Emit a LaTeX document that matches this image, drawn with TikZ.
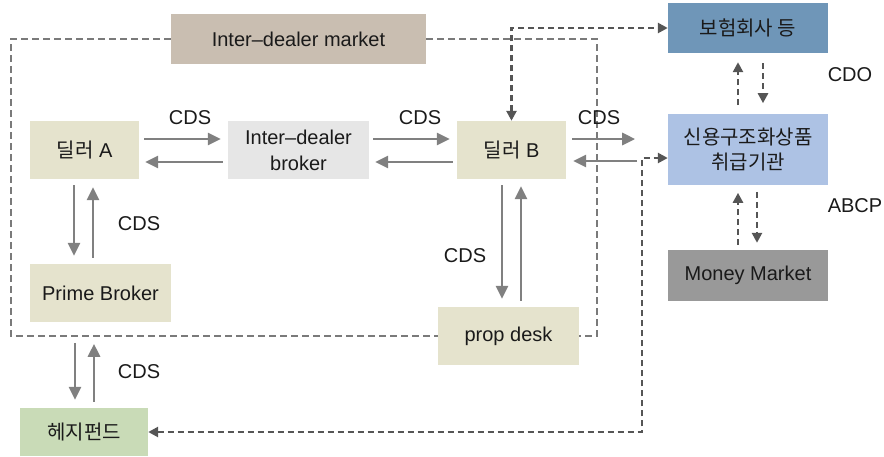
\documentclass[tikz,border=0pt]{standalone}
\usepackage{fontspec}
\setmainfont{Liberation Sans}
\newfontfamily\kr{Noto Sans CJK KR}
\usetikzlibrary{arrows.meta,calc}

\definecolor{marketfill}{HTML}{C9BEB1}
\definecolor{dealerfill}{HTML}{E5E3CD}
\definecolor{brokerfill}{HTML}{E6E6E6}
\definecolor{insfill}{HTML}{6F96B8}
\definecolor{credfill}{HTML}{ADC2E4}
\definecolor{moneyfill}{HTML}{999999}
\definecolor{hedgefill}{HTML}{C9DBB7}
\definecolor{solidgrey}{HTML}{808080}
\definecolor{loopgrey}{HTML}{7A7A7A}
\definecolor{darkdash}{HTML}{555555}
\definecolor{ink}{HTML}{1A1A1A}

\begin{document}
\begin{tikzpicture}[x=1pt,y=-1pt,
  box/.style={inner sep=0pt,align=center,text=ink,
    font=\fontsize{20}{26}\selectfont},
  krtext/.style={font=\kr\fontsize{20}{25}\selectfont},
  lbl/.style={inner sep=0pt,text=ink,font=\fontsize{20}{24}\selectfont},
  flow/.style={draw=solidgrey,line width=2.8pt,
    -{Triangle[length=13pt,width=12pt]}},
  loopline/.style={draw=loopgrey,line width=2.8pt,dash pattern=on 7pt off 4pt},
  linkline/.style={draw=darkdash,line width=2.8pt,dash pattern=on 6pt off 4pt},
  linktip/.style={-{Triangle[length=10pt,width=10pt]}},
  bothtips/.style={{Triangle[length=10pt,width=10pt]}-{Triangle[length=10pt,width=10pt]}}]
\useasboundingbox (0,0) rectangle (884,456);

% boxes
\node[box,fill=marketfill,minimum width=255pt,minimum height=50pt] (idm) at (298.5,39) {Inter–dealer market};
\node[box,fill=dealerfill,minimum width=109pt,minimum height=58pt] (dA) at (84.5,150) {{\kr\fontsize{20}{24}\selectfont 딜러} A};
\node[box,fill=brokerfill,minimum width=141pt,minimum height=58pt] (idb) at (298.5,150) {Inter–dealer\\broker};
\node[box,fill=dealerfill,minimum width=109pt,minimum height=58pt] (dB) at (511.5,150) {{\kr\fontsize{20}{24}\selectfont 딜러} B};
\node[box,krtext,fill=insfill,minimum width=160pt,minimum height=50pt] (ins) at (748,28) {보험회사 등};
\node[box,krtext,fill=credfill,minimum width=160pt,minimum height=71pt] (crd) at (748,149.5) {신용구조화상품\\취급기관};
\node[box,fill=moneyfill,minimum width=160pt,minimum height=51pt] (mm) at (748,275.5) {Money Market};
\node[box,fill=dealerfill,minimum width=141pt,minimum height=58pt] (pb) at (100.5,293) {Prime Broker};
\node[box,fill=dealerfill,minimum width=141pt,minimum height=58pt] (prop) at (508.5,336) {prop desk};
\node[box,krtext,fill=hedgefill,minimum width=128pt,minimum height=48pt] (hf) at (84,432) {헤지펀드};

% inter-dealer market loop
\draw[loopline] (idm.west) -- (11,39) -- (11,336) -- (prop.west);
\draw[loopline] (idm.east) -- (597,39) -- (597,336) -- (prop.east);

% dashed links to the insurers and the structured-credit desk
\draw[linkline,bothtips] (dB.north) |- (ins.west);
\coordinate (bend) at (642,158);
\draw[linkline,bothtips] (hf.east) -| (bend) -- (bend -| crd.west);

% CDO and ABCP flows
\draw[linkline,linktip] ($(ins.south)+(-10,52)$) -- ($(ins.south)+(-10,9)$);
\draw[linkline,linktip] ($(ins.south)+(15,10)$) -- ($(ins.south)+(15,50)$);
\draw[linkline,linktip] ($(mm.north)+(-10,-5)$) -- ($(mm.north)+(-10,-57)$);
\draw[linkline,linktip] ($(mm.north)+(9,-58)$) -- ($(mm.north)+(9,-7)$);

% CDS flows
\draw[flow] ($(dA.east)+(5,-11)$) -- ($(idb.west)+(-7,-11)$);
\draw[flow] ($(idb.west)+(-5,12)$) -- ($(dA.east)+(6,12)$);
\draw[flow] ($(idb.east)+(4,-11)$) -- ($(dB.west)+(-7,-11)$);
\draw[flow] ($(dB.west)+(-4,12)$) -- ($(idb.east)+(6,12)$);
\draw[flow] ($(dB.east)+(6,-11)$) -- ($(dB.east)+(69,-11)$);
\draw[flow] ($(dB.east)+(71,11)$) -- ($(dB.east)+(7,11)$);

\draw[flow] ($(dA.south)+(-10.5,6)$) -- ($(pb.north)+(-26.5,-8)$);
\draw[flow] ($(pb.north)+(-7.5,-6)$) -- ($(dA.south)+(8.5,8)$);
\draw[flow] ($(hf.north)+(-9,-65)$) -- ($(hf.north)+(-9,-8)$);
\draw[flow] ($(hf.north)+(10,-6)$) -- ($(hf.north)+(10,-64)$);
\draw[flow] ($(dB.south)+(-9.5,6)$) -- ($(prop.north)+(-6.5,-8)$);
\draw[flow] ($(prop.north)+(12.5,-6)$) -- ($(dB.south)+(9.5,7)$);

% labels
\node[lbl] (l1) at (190,118) {CDS};
\node[lbl] (l2) at (420,118) {CDS};
\node[lbl] (l3) at (599,118) {CDS};
\node[lbl] (l4) at (139,224) {CDS};
\node[lbl] (l5) at (139,372) {CDS};
\node[lbl] (l6) at (465,256) {CDS};
\node[lbl] (l7) at (850,75) {CDO};
\node[lbl] (l8) at (855,206) {ABCP};
\end{tikzpicture}
\end{document}
